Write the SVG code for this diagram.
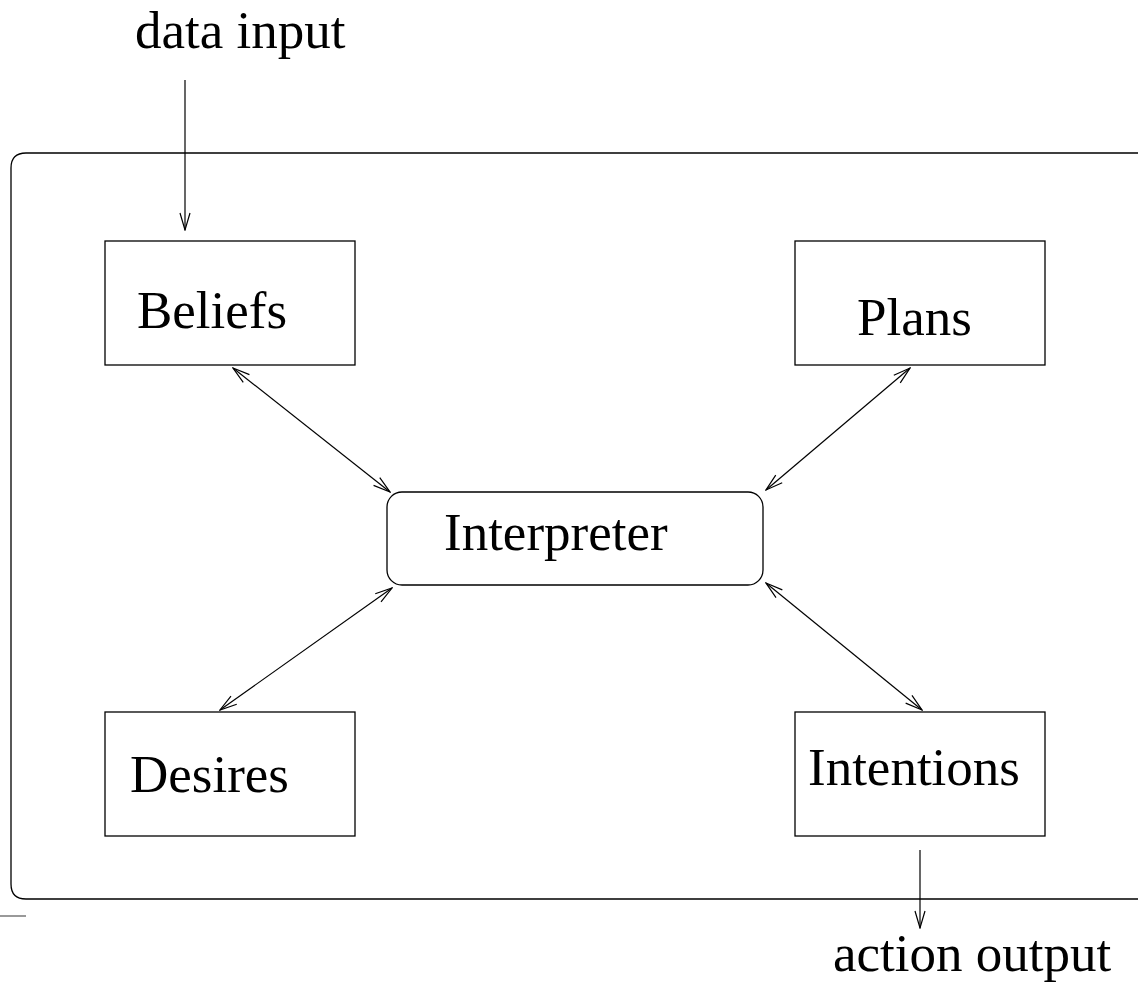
<svg xmlns="http://www.w3.org/2000/svg" width="1138" height="991" viewBox="0 0 1138 991">
<style>
.box{fill:none;stroke:#000;stroke-width:1.3}
.t{font-family:"Liberation Serif","Times New Roman",serif;font-size:53px;fill:#000}
.c{stroke:#000;stroke-width:1.2;fill:none}
</style>
<defs>
<marker id="a" viewBox="0 0 20 12" refX="19" refY="6" markerWidth="20" markerHeight="12" markerUnits="userSpaceOnUse" orient="auto-start-reverse">
<path d="M2,1 L19,6 L2,11" fill="none" stroke="#000" stroke-width="1.2"/>
</marker>
</defs>
<rect width="1138" height="991" fill="#fff"/>
<g id="frame">
<path class="box" d="M1140,153 H26 Q11,153 11,168 V884 Q11,899 26,899 H1140"/>
<line x1="0" y1="916" x2="26" y2="916" stroke="#999" stroke-width="2"/>
</g>
<g id="beliefs"><rect class="box" x="105" y="241" width="250" height="124"/><text class="t" x="137" y="328">Beliefs</text></g>
<g id="plans"><rect class="box" x="795" y="241" width="250" height="124"/><text class="t" x="857" y="335">Plans</text></g>
<g id="desires"><rect class="box" x="105" y="712" width="250" height="124"/><text class="t" x="130" y="792">Desires</text></g>
<g id="intentions"><rect class="box" x="795" y="712" width="250" height="124"/><text class="t" x="808" y="785">Intentions</text></g>
<g id="interpreter"><rect class="box" x="387" y="492" width="376" height="93" rx="15"/><text class="t" x="444" y="550">Interpreter</text></g>
<g id="data-input"><text class="t" x="135" y="48">data input</text></g>
<g id="action-output"><text class="t" x="833" y="971">action output</text></g>
<g id="connectors">
<line class="c" x1="185" y1="80" x2="185" y2="230" marker-end="url(#a)"/>
<line class="c" x1="233" y1="368" x2="390" y2="492" marker-start="url(#a)" marker-end="url(#a)"/>
<line class="c" x1="910" y1="368" x2="766" y2="490" marker-start="url(#a)" marker-end="url(#a)"/>
<line class="c" x1="220" y1="710" x2="392" y2="588" marker-start="url(#a)" marker-end="url(#a)"/>
<line class="c" x1="766" y1="583" x2="922" y2="710" marker-start="url(#a)" marker-end="url(#a)"/>
<line class="c" x1="920" y1="850" x2="920" y2="928" marker-end="url(#a)"/>
</g>
</svg>
